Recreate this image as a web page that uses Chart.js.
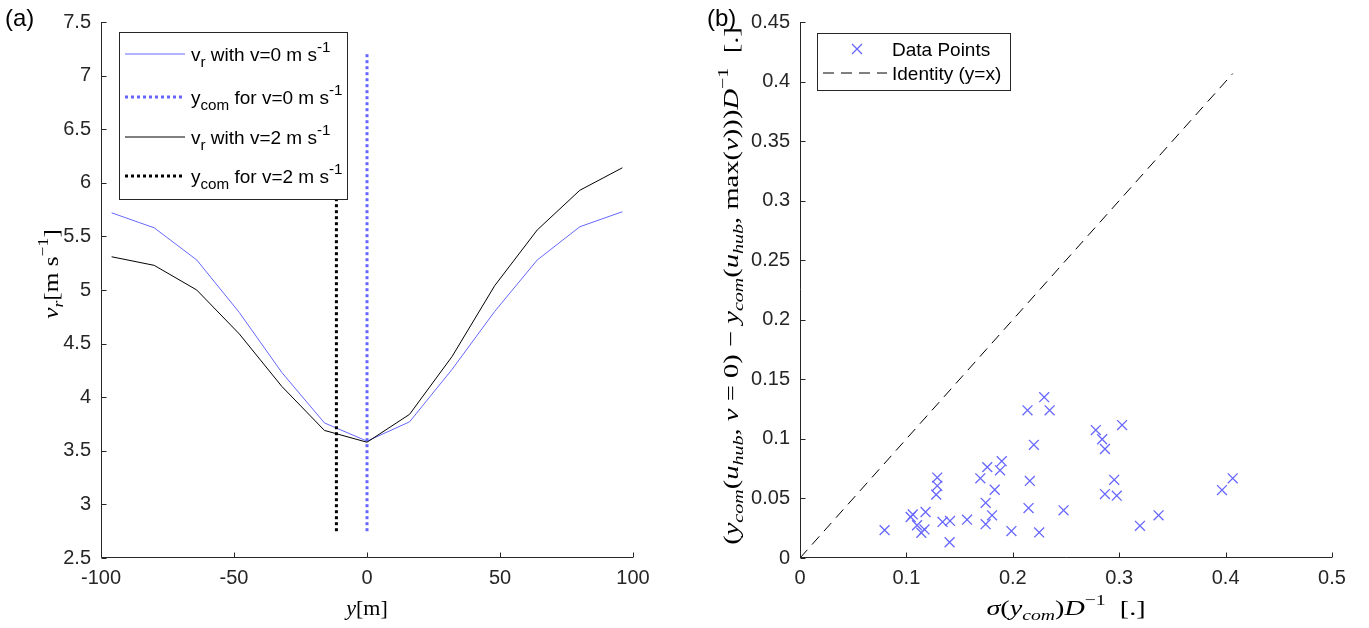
<!DOCTYPE html>
<html>
<head>
<meta charset="utf-8">
<script src="https://cdn.jsdelivr.net/npm/chart.js@4.4.0/dist/chart.umd.min.js"></script>
<style>
html, body { margin: 0; padding: 0; background: #fff; }
#wrap { position: relative; width: 1369px; height: 628px; }
canvas { position: absolute; top: 0; }
</style>
</head>
<body>
<div id="wrap">
  <canvas id="leftChart" width="684" height="628" style="left:0"></canvas>
  <canvas id="rightChart" width="685" height="628" style="left:684px"></canvas>
</div>
<script>
// panel (a): wind speed profiles
const yPos = [-96, -80, -64, -48, -32, -16, 0, 16, 32, 48, 64, 80, 96];
const vr0 = [5.72, 5.58, 5.28, 4.79, 4.23, 3.76, 3.59, 3.77, 4.26, 4.80, 5.28, 5.59, 5.73];
const vr2 = [5.31, 5.23, 5.00, 4.59, 4.10, 3.69, 3.58, 3.84, 4.38, 5.04, 5.56, 5.93, 6.14];
const ycom0 = 0;
const ycom2 = -11.5;
const ycomSpan = [2.75, 7.22];

// panel (b): scatter
const sigma = [0.0795, 0.104, 0.106, 0.110, 0.114, 0.117, 0.118, 0.129, 0.129, 0.128, 0.134, 0.141, 0.1406,
  0.157, 0.1695, 0.176, 0.1745, 0.1745, 0.1805, 0.183, 0.188, 0.1896, 0.1987, 0.2138, 0.2148, 0.216, 0.2198,
  0.2248, 0.2295, 0.2346, 0.2477, 0.278, 0.284, 0.2866, 0.2866, 0.2953, 0.2977, 0.3027, 0.3195, 0.337, 0.3966, 0.4067];
const shift = [0.0234, 0.0344, 0.0366, 0.0275, 0.0212, 0.0240, 0.0386, 0.0675, 0.0606, 0.0532, 0.0303, 0.0311, 0.0132,
  0.0322, 0.0669, 0.0763, 0.0463, 0.0284, 0.0358, 0.0573, 0.0736, 0.0813, 0.0226, 0.124, 0.0419, 0.0647, 0.095,
  0.0215, 0.135, 0.124, 0.040, 0.1074, 0.0997, 0.0915, 0.0537, 0.0656, 0.0523, 0.1116, 0.027, 0.0358, 0.057, 0.0669];

const leftXTicks = [-100, -50, 0, 50, 100];
const leftYTicks = [2.5, 3, 3.5, 4, 4.5, 5, 5.5, 6, 6.5, 7, 7.5];
const rightXTicks = [0, 0.1, 0.2, 0.3, 0.4, 0.5];
const rightYTicks = [0, 0.05, 0.1, 0.15, 0.2, 0.25, 0.3, 0.35, 0.4, 0.45];

const BLUE = 'rgb(102,102,255)';
const AXIS = '#262626';

function axis(ticks, size, horizontal) {
  return {
    type: 'linear',
    min: ticks[0],
    max: ticks[ticks.length - 1],
    afterBuildTicks: s => { s.ticks = ticks.map(v => ({ value: v })); },
    afterFit: s => { if (horizontal) s.height = size; else s.width = size; },
    grid: { display: false, drawTicks: false },
    border: { display: false },
    ticks: {
      font: { family: 'Liberation Sans', size: 20 },
      color: AXIS,
      padding: horizontal ? 8 : 10,
      autoSkip: false,
      maxRotation: 0,
      callback: v => String(v)
    }
  };
}

// text with sub/superscripts: {t, i: italic, d: 1 sub / -1 sup}
const r = (t, i, d) => ({ t, i, d });
function drawRuns(ctx, runs, x, y, o) {
  const small = o.small || 0.7;
  const fontOf = q => (q.i ? 'italic ' : '') + (q.d ? o.size * small : o.size) + 'px "' + o.family + '"';
  let w = 0;
  const widths = runs.map(q => { ctx.font = fontOf(q); const m = ctx.measureText(q.t).width; w += m; return m; });
  ctx.save();
  ctx.translate(x, y);
  if (o.rot) ctx.rotate(o.rot);
  if (o.sx) ctx.scale(o.sx, 1);
  ctx.fillStyle = o.color || '#000';
  ctx.textAlign = 'left';
  ctx.textBaseline = 'alphabetic';
  let cx = o.align === 'left' ? 0 : -w / 2;
  const base = o.size * 0.35;
  runs.forEach((q, k) => {
    ctx.font = fontOf(q);
    const dy = q.d === 1 ? o.size * (o.subDrop || 0.25) : q.d === -1 ? -o.size * (o.supRise || 0.42) : 0;
    ctx.fillText(q.t, cx, base + dy);
    cx += widths[k];
  });
  ctx.restore();
}

function drawFrame(chart, xTicks, yTicks) {
  const ctx = chart.ctx;
  const a = chart.chartArea;
  const xs = chart.scales.x, ys = chart.scales.y;
  const L = Math.round(a.left) + 0.5, B = Math.round(a.bottom) - 0.5;
  ctx.save();
  ctx.strokeStyle = AXIS;
  ctx.lineWidth = 1;
  ctx.beginPath();
  ctx.moveTo(L, a.top); ctx.lineTo(L, B); ctx.lineTo(a.right, B);
  xTicks.forEach(v => { const px = Math.round(xs.getPixelForValue(v)) + 0.5; ctx.moveTo(px, B); ctx.lineTo(px, B - 5); });
  yTicks.forEach(v => { const py = Math.round(ys.getPixelForValue(v)) + 0.5; ctx.moveTo(L, py); ctx.lineTo(L + 5, py); });
  ctx.stroke();
  ctx.restore();
}

function legendBox(ctx, x, y, w, h) {
  ctx.save();
  ctx.fillStyle = '#fff';
  ctx.fillRect(x, y, w, h);
  ctx.strokeStyle = AXIS;
  ctx.lineWidth = 1;
  ctx.strokeRect(Math.round(x) + 0.5, Math.round(y) + 0.5, w, h);
  ctx.restore();
}

function legendLine(ctx, x1, x2, y, color, width, dash) {
  ctx.save();
  ctx.strokeStyle = color;
  ctx.lineWidth = width;
  ctx.setLineDash(dash || []);
  ctx.beginPath();
  ctx.moveTo(x1, y); ctx.lineTo(x2, y);
  ctx.stroke();
  ctx.restore();
}

const legFont = { size: 19, family: 'Liberation Sans', align: 'left', color: '#000', small: 0.8, subDrop: 0.32, supRise: 0.48 };
const texFont = { size: 22, family: 'Liberation Serif', color: '#000' };
const tagFont = { size: 24, family: 'Liberation Sans', align: 'left', color: '#000' };

const leftDeco = {
  id: 'leftDeco',
  afterDraw(chart) {
    const ctx = chart.ctx;
    drawFrame(chart, leftXTicks, leftYTicks);
    // legend
    legendBox(ctx, 119, 32, 228, 167);
    const rows = [
      { y: 54, c: BLUE, w: 1, dash: null, runs: [r('v'), r('r', 0, 1), r(' with v=0 m s'), r('-1', 0, -1)] },
      { y: 97, c: BLUE, w: 3, dash: [3, 3], runs: [r('y'), r('com', 0, 1), r(' for v=0 m s'), r('-1', 0, -1)] },
      { y: 137, c: '#000', w: 1, dash: null, runs: [r('v'), r('r', 0, 1), r(' with v=2 m s'), r('-1', 0, -1)] },
      { y: 176, c: '#000', w: 3, dash: [3, 3], runs: [r('y'), r('com', 0, 1), r(' for v=2 m s'), r('-1', 0, -1)] }
    ];
    rows.forEach(row => {
      legendLine(ctx, 125, 185, row.y, row.c, row.w, row.dash);
      drawRuns(ctx, row.runs, 191, row.y, legFont);
    });
    // axis titles
    drawRuns(ctx, [r('v', 1), r('r', 1, 1), r('[m s'), r('−1', 0, -1), r(']')], 50, 274,
      Object.assign({ rot: -Math.PI / 2, sx: 1.15 }, texFont));
    drawRuns(ctx, [r('y', 1), r('[m]')], 367, 607, texFont);
    drawRuns(ctx, [r('(a)')], 5, 18, tagFont);
  }
};

const rightDeco = {
  id: 'rightDeco',
  afterDraw(chart) {
    const ctx = chart.ctx;
    drawFrame(chart, rightXTicks, rightYTicks);
    legendBox(ctx, 133, 33, 193, 57);
    ctx.save();
    ctx.strokeStyle = BLUE;
    ctx.lineWidth = 1.3;
    ctx.beginPath();
    ctx.moveTo(168, 44); ctx.lineTo(178, 54);
    ctx.moveTo(178, 44); ctx.lineTo(168, 54);
    ctx.stroke();
    ctx.restore();
    drawRuns(ctx, [r('Data Points')], 208, 49, legFont);
    legendLine(ctx, 139, 203, 73, '#000', 1, [11, 7]);
    drawRuns(ctx, [r('Identity (y=x)')], 208, 73, legFont);
    const yl = [r('('), r('y', 1), r('com', 1, 1), r('('), r('u', 1), r('hub', 1, 1), r(', '), r('v', 1), r(' = 0) − '),
      r('y', 1), r('com', 1, 1), r('('), r('u', 1), r('hub', 1, 1), r(', max('), r('v', 1), r(')))'), r('D', 1), r('−1', 0, -1), r('  [.]')];
    drawRuns(ctx, yl, 46, 286, Object.assign({ rot: -Math.PI / 2, sx: 1.3 }, texFont));
    drawRuns(ctx, [r('σ', 1), r('('), r('y', 1), r('com', 1, 1), r(')'), r('D', 1), r('−1', 0, -1), r('  [.]')], 382, 607,
      Object.assign({ sx: 1.28 }, texFont));
    drawRuns(ctx, [r('(b)')], 23, 18, tagFont);
  }
};

const lineDs = (label, xs, ys, color, width, dash, order) => ({
  label,
  data: xs.map((x, i) => ({ x, y: ys[i] })),
  showLine: true,
  borderColor: color,
  backgroundColor: color,
  borderWidth: width,
  borderDash: dash || [],
  pointRadius: 0,
  tension: 0,
  order
});

new Chart(document.getElementById('leftChart'), {
  type: 'scatter',
  data: {
    datasets: [
      lineDs('vr v=0', yPos, vr0, BLUE, 1, null, 4),
      lineDs('ycom v=0', [ycom0, ycom0], ycomSpan, BLUE, 3, [3, 3], 3),
      lineDs('vr v=2', yPos, vr2, '#000', 1, null, 2),
      lineDs('ycom v=2', [ycom2, ycom2], ycomSpan, '#000', 3, [3, 3], 1)
    ]
  },
  options: {
    responsive: false,
    animation: false,
    layout: { padding: { top: 15, right: 51, left: 0, bottom: 0 } },
    scales: {
      x: axis(leftXTicks, 70, true),
      y: axis(leftYTicks, 101, false)
    },
    plugins: { legend: { display: false }, tooltip: { enabled: false } }
  },
  plugins: [leftDeco]
});

const idMax = Math.max(...sigma);
new Chart(document.getElementById('rightChart'), {
  type: 'scatter',
  data: {
    datasets: [
      {
        label: 'Data Points',
        data: sigma.map((x, i) => ({ x, y: shift[i] })),
        pointStyle: 'crossRot',
        pointRadius: 7,
        borderColor: BLUE,
        backgroundColor: BLUE,
        borderWidth: 1.3,
        order: 2
      },
      lineDs('Identity (y=x)', [0, idMax], [0, idMax], '#000', 1, [11, 7], 1)
    ]
  },
  options: {
    responsive: false,
    animation: false,
    layout: { padding: { top: 15, right: 37, left: 0, bottom: 0 } },
    scales: {
      x: axis(rightXTicks, 70, true),
      y: axis(rightYTicks, 116, false)
    },
    plugins: { legend: { display: false }, tooltip: { enabled: false } }
  },
  plugins: [rightDeco]
});
</script>
</body>
</html>
